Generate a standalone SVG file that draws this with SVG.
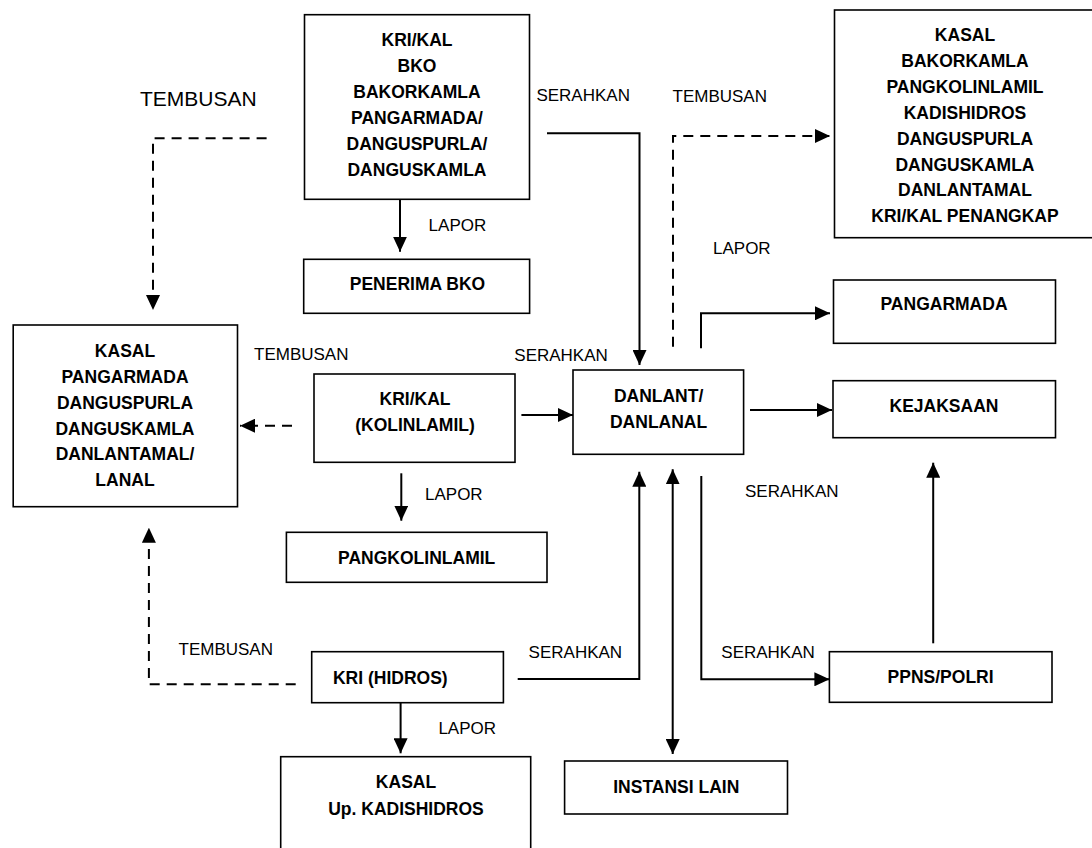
<svg xmlns="http://www.w3.org/2000/svg" width="1092" height="848" viewBox="0 0 1092 848">
<style>
.box{fill:#fff;stroke:#000;stroke-width:1.6}
.t{font-family:"Liberation Sans",Arial,sans-serif;font-weight:bold;font-size:17.5px;text-anchor:middle;fill:#000}
.l{font-family:"Liberation Sans",Arial,sans-serif;font-size:17px;fill:#000}
.c{fill:none;stroke:#000;stroke-width:2}
.d{fill:none;stroke:#000;stroke-width:2;stroke-dasharray:10 7}
</style>
<defs>
<marker id="ah" viewBox="0 0 15 14" refX="15" refY="7" markerWidth="15" markerHeight="14" markerUnits="userSpaceOnUse" orient="auto-start-reverse">
<path d="M0,0 L15,7 L0,14 z" fill="#000"/>
</marker>
</defs>
<rect width="1092" height="848" fill="#fff"/>

<g id="connectors">
<path class="d" d="M266.6,138.3 H153 V310" marker-end="url(#ah)"/>
<path class="c" d="M400,199.3 V251.7" marker-end="url(#ah)"/>
<path class="c" d="M547,133.3 H639.5 V365" marker-end="url(#ah)"/>
<path class="d" d="M673,346.7 V136 H830" marker-end="url(#ah)"/>
<path class="c" d="M701,348.3 V313.3 H830" marker-end="url(#ah)"/>
<path class="c" d="M521.4,415 H573" marker-end="url(#ah)"/>
<path class="c" d="M750,410 H832" marker-end="url(#ah)"/>
<path class="d" d="M292,425.7 H240" marker-end="url(#ah)"/>
<path class="c" d="M401.3,473.3 V520.7" marker-end="url(#ah)"/>
<path class="c" d="M517.7,679 H639.3 V471.7" marker-end="url(#ah)"/>
<path class="c" d="M672.7,469.3 V754" marker-start="url(#ah)" marker-end="url(#ah)"/>
<path class="c" d="M701.3,476 V679.3 H829.4" marker-end="url(#ah)"/>
<path class="c" d="M933.2,643.3 V462.7" marker-end="url(#ah)"/>
<path class="c" d="M400.6,702.7 V753.3" marker-end="url(#ah)"/>
<path class="d" d="M295.7,684.3 H148.9 V527.7" marker-end="url(#ah)"/>
</g>

<g id="labels">
<text class="l" x="140" y="105.8" style="font-size:21px">TEMBUSAN</text>
<text class="l" x="536.4" y="101">SERAHKAN</text>
<text class="l" x="672.5" y="102">TEMBUSAN</text>
<text class="l" x="428.6" y="231">LAPOR</text>
<text class="l" x="713" y="254.4">LAPOR</text>
<text class="l" x="254" y="360.4">TEMBUSAN</text>
<text class="l" x="514.3" y="360.6">SERAHKAN</text>
<text class="l" x="425" y="500.4">LAPOR</text>
<text class="l" x="745" y="496.8">SERAHKAN</text>
<text class="l" x="178.5" y="655.1">TEMBUSAN</text>
<text class="l" x="528.6" y="658.4">SERAHKAN</text>
<text class="l" x="721.3" y="658.4">SERAHKAN</text>
<text class="l" x="438.4" y="734.4">LAPOR</text>
</g>

<g id="kri-kal-bko">
<rect class="box" x="304.5" y="14.7" width="225" height="184.6"/>
<text class="t" x="417"><tspan x="417" y="46.3">KRI/KAL</tspan><tspan x="417" y="72.3">BKO</tspan><tspan x="417" y="98.3">BAKORKAMLA</tspan><tspan x="417" y="124.3">PANGARMADA/</tspan><tspan x="417" y="150.3">DANGUSPURLA/</tspan><tspan x="417" y="176.3">DANGUSKAMLA</tspan></text>
</g>

<g id="penerima-bko">
<rect class="box" x="303.7" y="259.3" width="225.9" height="54"/>
<text class="t" x="417.5" y="289.6">PENERIMA BKO</text>
</g>

<g id="kasal-tembusan">
<rect class="box" x="834.5" y="10" width="270" height="227.7"/>
<text class="t" x="965"><tspan x="965" y="41.3">KASAL</tspan><tspan x="965" y="67.3">BAKORKAMLA</tspan><tspan x="965" y="93">PANGKOLINLAMIL</tspan><tspan x="965" y="119">KADISHIDROS</tspan><tspan x="965" y="144.6">DANGUSPURLA</tspan><tspan x="965" y="170.6">DANGUSKAMLA</tspan><tspan x="965" y="196.3">DANLANTAMAL</tspan><tspan x="965" y="222.3">KRI/KAL PENANGKAP</tspan></text>
</g>

<g id="pangarmada">
<rect class="box" x="833.5" y="280" width="222" height="63.3"/>
<text class="t" x="944" y="310.3">PANGARMADA</text>
</g>

<g id="kasal-left">
<rect class="box" x="13.2" y="325" width="224.3" height="181.7"/>
<text class="t" x="125"><tspan x="125" y="357">KASAL</tspan><tspan x="125" y="383">PANGARMADA</tspan><tspan x="125" y="408.6">DANGUSPURLA</tspan><tspan x="125" y="434.6">DANGUSKAMLA</tspan><tspan x="125" y="460.3">DANLANTAMAL/</tspan><tspan x="125" y="486.3">LANAL</tspan></text>
</g>

<g id="kri-kal-kolinlamil">
<rect class="box" x="314" y="374" width="201" height="88.3"/>
<text class="t" x="415"><tspan x="415" y="404.6">KRI/KAL</tspan><tspan x="415" y="431.3">(KOLINLAMIL)</tspan></text>
</g>

<g id="danlant">
<rect class="box" x="573" y="370" width="170.6" height="84.3"/>
<text class="t" x="658.6"><tspan x="658.6" y="402">DANLANT/</tspan><tspan x="658.6" y="428">DANLANAL</tspan></text>
</g>

<g id="kejaksaan">
<rect class="box" x="833" y="380.7" width="222.5" height="57"/>
<text class="t" x="944" y="412">KEJAKSAAN</text>
</g>

<g id="pangkolinlamil">
<rect class="box" x="286.4" y="532.3" width="260.6" height="50"/>
<text class="t" x="416.7" y="563.6">PANGKOLINLAMIL</text>
</g>

<g id="kri-hidros">
<rect class="box" x="311.7" y="651.7" width="191.7" height="51"/>
<text class="t" x="390.3" y="683.6">KRI (HIDROS)</text>
</g>

<g id="ppns-polri">
<rect class="box" x="829.4" y="651.7" width="222.6" height="50.6"/>
<text class="t" x="940.6" y="683">PPNS/POLRI</text>
</g>

<g id="instansi-lain">
<rect class="box" x="564.6" y="761" width="222.9" height="53"/>
<text class="t" x="676.3" y="793">INSTANSI LAIN</text>
</g>

<g id="kasal-kadishidros">
<rect class="box" x="280.7" y="756.7" width="250" height="110"/>
<text class="t" x="406"><tspan x="406" y="788">KASAL</tspan><tspan x="406" y="814.6">Up. KADISHIDROS</tspan></text>
</g>
</svg>
